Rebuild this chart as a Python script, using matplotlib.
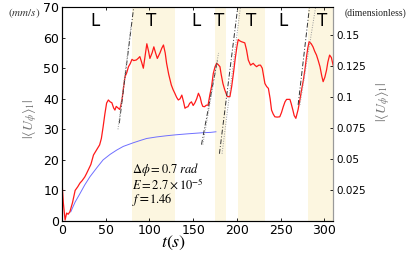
import numpy as np
import matplotlib
matplotlib.use('Agg')
import matplotlib.pyplot as plt

plt.rcParams['mathtext.fontset'] = 'stix'

# red curve: |<U_phi>_1| (mm/s)
t_red = [0, 1.5, 3.5, 5.3, 7, 9, 12, 15, 18, 20.5, 23, 26, 28, 30, 33, 36, 39, 43, 45, 47, 49,
         51, 53, 55, 57, 59, 60.5, 62, 64, 66, 67.4, 69, 70, 72, 74, 76, 78, 80, 82, 85, 87, 89,
         91, 93, 95, 97, 99, 100.5, 103, 105, 107, 109, 112, 114, 116, 118, 119.6, 122, 125, 127,
         129, 131, 133, 135, 137, 139, 140.6, 142, 144, 146, 148, 150, 152, 154, 156, 158, 159.6,
         161, 163, 165, 167, 169, 171, 173, 175, 176.8, 178.5, 180.6, 182, 184, 186, 189, 192, 194,
         196, 198, 200, 201.5, 203, 205, 207, 209, 211, 213, 215.6, 218.6, 220.5, 222.5, 225, 227,
         229, 230, 232, 234, 236, 238, 239.6, 241.5, 243.4, 246, 249, 251, 253, 255, 256.8, 258.5,
         260.6, 262, 264, 265.5, 267.4, 270, 272, 274, 276, 278, 279.6, 281, 282.6, 285, 287, 289,
         291, 293, 295, 297, 298.6, 300.5, 302.5, 304, 306, 308, 310]
u_red = [12.7, 6, 0.3, 2.6, 2.2, 3, 6, 10, 11.2, 12.4, 13.2, 14.4, 15.5, 16.7, 18.5, 21.6, 23, 24.9, 27,
         30.8, 35, 38.6, 39.6, 39, 38.7, 37, 36.3, 37.5, 37, 36.5, 38, 40.5, 42.9, 47.2, 48.5, 50.5,
         51.5, 52.9, 52.5, 52.7, 53.2, 53.8, 52, 50, 54, 58, 55.5, 53.2, 55, 57, 55, 53.2, 55, 56.5,
         57.6, 55, 51.6, 48, 44.5, 43, 41.8, 40.5, 39.6, 40, 41.2, 39, 36.9, 37.2, 37.4, 38.5, 39,
         37.8, 38.7, 40, 41.8, 40.5, 38.5, 37.5, 37.4, 37.9, 37.9, 41.2, 44, 48.3, 50.5, 51.6, 51.2,
         50.5, 48, 45, 43, 40.7, 40.7, 44, 48.3, 53, 57, 59.4, 59, 58.7, 58.5, 58.3, 56, 52.7, 51,
         51.6, 51, 50.5, 51, 51, 50, 48.3, 45, 44, 43.4, 40, 36.3, 35, 34.1, 34, 34.1, 35.5, 37.4,
         39, 39.8, 39.8, 39.8, 38.5, 36.3, 34.5, 33.6, 36.5, 39.6, 43, 46.1, 50, 53.7, 56.5, 58.7,
         58, 57, 55.5, 54.3, 52.5, 50.5, 47.5, 45.6, 47, 49.4, 52, 54.3, 53.5, 51]

# blue curve
t_blue = [10, 15, 20.6, 26, 32, 40, 47, 55, 62.5, 70, 81.5, 90, 96.8, 108, 119.6, 130, 142.5, 152, 161.5, 170, 176]
u_blue = [3.0, 6.2, 9.0, 11.8, 14.5, 17.5, 20.0, 21.8, 23.2, 24.4, 25.6, 26.4, 27.0, 27.5, 27.9, 28.2, 28.5, 28.7, 28.9, 29.0, 29.2]

# fitted rises: (t0, U0, t1, U1), black dash-dot and gray dotted
fits_dash = [(65.5, 32, 82, 70), (159.5, 25, 178, 53), (180, 22, 201, 70), (270, 38, 283, 70)]
fits_dot = [(64, 30, 79, 64), (161, 25, 179, 55), (183, 22, 204, 70), (272, 38, 290, 70)]

# transition windows
shade_spans = [(80, 129), (175, 187), (201, 232), (281, 310)]
phases = ['L', 'T', 'L', 'T', 'T', 'L', 'T']
phase_t = [38, 102, 153, 180, 216, 253, 298]

fig = plt.figure(figsize=(4.19, 2.54), dpi=100)
ax = fig.add_axes([0.148, 0.130, 0.647, 0.842])

for a, b in shade_spans:
    ax.axvspan(a, b, color='#fcf6e0', lw=0, zorder=0)

ax.plot(t_blue, u_blue, color='#6f6fff', lw=0.7, zorder=2)
ax.plot(t_red, u_red, color='#ff1a1a', lw=0.9, zorder=3)
for t0, u0, t1, u1 in fits_dash:
    ax.plot([t0, t1], [u0, u1], color='#333333', lw=0.7, ls=(0, (5, 2, 1, 2)), zorder=4)
for t0, u0, t1, u1 in fits_dot:
    ax.plot([t0, t1], [u0, u1], color='#999999', lw=0.7, ls=(0, (1, 1.5)), zorder=4)

for p, tp in zip(phases, phase_t):
    ax.text(tp, 65.5, p, ha='center', va='center', fontsize=12, family='DejaVu Sans')

ax.set_xlim(0, 310)
ax.set_ylim(0, 70)
ax.set_xticks([0, 50, 100, 150, 200, 250, 300])
ax.set_yticks([0, 10, 20, 30, 40, 50, 60, 70])
ax.tick_params(direction='in', length=2.5, labelsize=9, width=0.6, top=True, pad=2)
for s in ['top', 'right']:
    ax.spines[s].set_color('#999999')
ax.spines['left'].set_color('#333333')
ax.spines['bottom'].set_color('#333333')

ax2 = ax.twinx()
ax2.set_ylim(0, 0.1726)
ax2.set_yticks([0.025, 0.05, 0.075, 0.1, 0.125, 0.15])
ax2.set_yticklabels(['0.025', '0.05', '0.075', '0.1', '0.125', '0.15'])
ax2.tick_params(direction='in', length=2.5, labelsize=7.5, width=0.6, pad=2)
ax2.spines['right'].set_color('#999999')

ax.text(80, 16.7, r'$\Delta\phi = 0.7\ rad$', fontsize=9, va='center')
ax.text(80, 11.8, r'$E = 2.7\times10^{-5}$', fontsize=9, va='center')
ax.text(80, 7.0, r'$f\,$=$\mathit{1.46}$', fontsize=9, va='center')

fig.text(0.415, 0.045, r'$t(s)$', fontsize=13, ha='center', va='center')
fig.text(0.058, 0.948, r'$(mm/s)$', fontsize=8, ha='center', va='center', color='#333333')
fig.text(0.895, 0.948, '(dimensionless)', fontsize=7, ha='center', va='center',
         family='Liberation Serif', color='#222222')
fig.text(0.072, 0.53, r'$|\langle U_\phi\rangle_1|$', fontsize=10, rotation=90,
         ha='center', va='center', color='#777777')
fig.text(0.915, 0.6, r'$|\langle U_\phi\rangle_1|$', fontsize=10, rotation=90,
         ha='center', va='center', color='#777777')

fig.savefig('out.png', dpi=100)
